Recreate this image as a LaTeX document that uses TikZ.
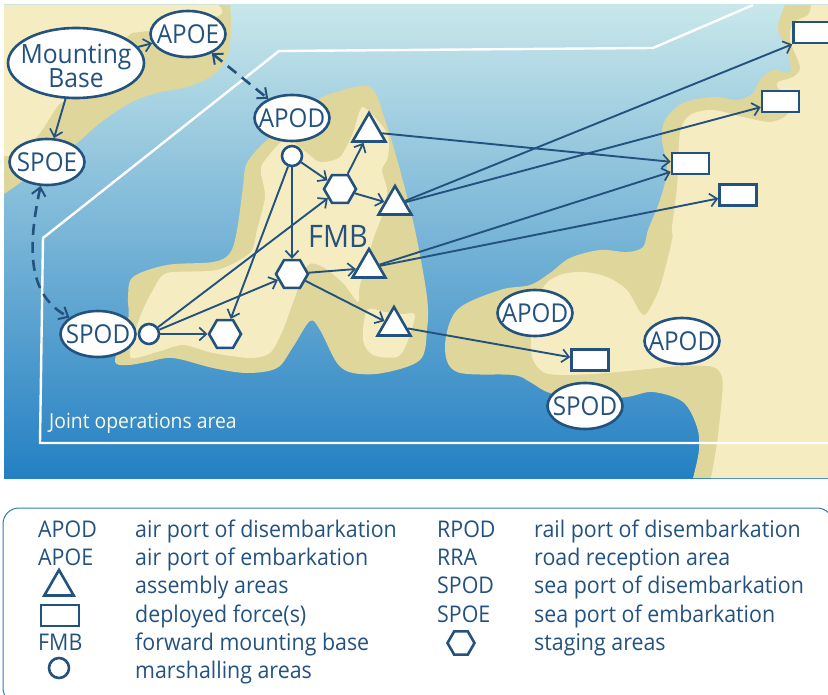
\documentclass[tikz,border=0pt]{standalone}
\usepackage{fontspec}
\setmainfont[FakeStretch=0.93]{Open Sans}
\usetikzlibrary{shapes.geometric,arrows.meta}
\definecolor{ink}{HTML}{24527F}
\definecolor{dune}{HTML}{DED69A}
\definecolor{sand}{HTML}{F5EDC1}
\definecolor{seatop}{HTML}{C8E7EA}
\definecolor{seamid}{HTML}{7FB8DA}
\definecolor{seabot}{HTML}{2480C3}
\definecolor{legendline}{HTML}{2F7AB5}
\newcommand{\portlab}[1]{\makebox[0pt]{\raisebox{-0.36em}[0pt][0pt]{#1}}}
\tikzset{
 port/.style={ellipse,draw=ink,fill=white,line width=2.6pt,minimum width=75pt,minimum height=46pt,inner sep=0pt,text=ink,font=\fontsize{26}{26}\selectfont},
 hexa/.style={regular polygon,regular polygon sides=6,draw=ink,fill=white,line width=2.6pt,minimum size=32pt,inner sep=0pt},
 tria/.style={regular polygon,regular polygon sides=3,draw=ink,fill=white,line width=2.6pt,minimum size=38pt,inner sep=0pt},
 boxy/.style={rectangle,draw=ink,fill=white,line width=2.6pt,minimum width=37pt,minimum height=21pt,inner sep=0pt},
 ring/.style={circle,draw=ink,fill=white,line width=2.6pt,minimum size=20pt,inner sep=0pt},
 link/.style={draw=ink,line width=1.9pt,-{Straight Barb[length=7pt,width=13pt,line width=1.7pt]}},
 dlink/.style={draw=ink,line width=2.6pt,dash pattern=on 11pt off 7pt,{Straight Barb[length=8pt,width=14pt,line width=2pt]}-{Straight Barb[length=8pt,width=14pt,line width=2pt]}},
 key/.style={anchor=base west,inner sep=0pt,text=ink,font=\fontsize{23}{23}\selectfont},
}
\begin{document}
\begin{tikzpicture}[x=1pt,y=-1pt]
\useasboundingbox (0,0) rectangle (828,695);
\begin{scope}
\clip (0,0) rectangle (828,695);
\shade[top color=seatop,middle color=seamid,bottom color=seabot] (4,5) rectangle (828,478);
\begin{scope}
\clip (4,5) rectangle (828,478);
% top-left land
\fill[dune] (4,5) -- plot[smooth,tension=.6] coordinates {(230,5)(231,30)(227,57)(213,75)(187,87)(157,93)(130,103)(100,123)(77,143)(50,163)(20,183)(4,194)} -- cycle;
\fill[sand] (4,5) -- plot[smooth,tension=.6] coordinates {(218,5)(220,15)(180,28)(140,32)(127,37)(100,70)(68,98)(57,107)(40,133)(20,153)(4,156)} -- cycle;
% central island
\fill[dune] plot[smooth cycle,tension=.55] coordinates {(370,87)(333,93)(313,103)(267,140)(247,163)(243,187)(237,230)(230,253)(213,262)(167,265)(133,277)(128,297)(128,320)(115,360)(127,365)(147,362)(173,358)(213,368)(247,373)(277,368)(293,347)(310,321)(320,330)(337,363)(353,373)(383,373)(420,360)(427,330)(427,297)(415,230)(400,170)(385,120)};
\fill[sand] plot[smooth cycle,tension=.45] coordinates {(363,107)(353,133)(340,157)(320,162)(307,153)(290,140)(280,143)(263,163)(261,173)(265,197)(257,230)(250,253)(217,270)(167,273)(153,290)(140,317)(130,357)(157,352)(183,345)(213,353)(250,358)(270,353)(283,330)(295,297)(308,265)(323,267)(343,283)(358,302)(360,285)(373,240)(383,213)(387,190)(382,170)(388,157)(387,133)};
\fill[sand] plot[smooth cycle,tension=.5] coordinates {(367,310)(363,340)(373,355)(397,357)(407,343)(415,315)(403,314)(385,312)};
% right land
\fill[dune] (828,5) -- plot[smooth,tension=.55] coordinates {(785,5)(778,28)(787,50)(790,72)(773,70)(760,80)(753,93)(738,100)(713,97)(683,103)(665,120)(662,140)(667,170)(660,200)(648,230)(643,247)(627,252)(600,250)(570,258)(550,273)(530,285)(500,290)(457,310)(445,347)(457,372)(513,375)(530,382)(550,393)(590,400)(627,397)(653,392)(683,402)(697,427)(699,450)(693,478)} -- (828,478) -- cycle;
\fill[sand] (828,5) -- plot[smooth,tension=.5] coordinates {(811,5)(808,15)(793,23)(790,40)(800,67)(793,77)(778,82)(778,88)(790,100)(787,115)(770,122)(743,117)(713,110)(690,115)(680,133)(677,187)(672,227)(672,240)(660,287)(647,313)(640,312)(627,290)(607,277)(583,272)(560,275)(543,288)(532,330)(532,357)(543,372)(563,375)(607,373)(680,366)(713,367)(722,377)(722,397)(717,443)(711,478)} -- (828,478) -- cycle;
% joint operations area
\draw[white,line width=2.4pt,line join=miter] (753,5) -- (653,48) -- (279,51) -- (43,238) -- (40,443) -- (828,443);
\end{scope}
\node[anchor=base west,inner sep=0pt,text=sand!40!white,font=\fontsize{20.8}{20.8}\selectfont] (joa) at (49,428) {Joint operations area};
\node[anchor=center,inner sep=0pt,text=ink,font=\fontsize{31}{31}\selectfont] (fmb) at (338,236) {FMB};
% nodes
\node[port,minimum width=136pt,minimum height=70pt,font=\fontsize{26.5}{26.5}\selectfont] (mb) at (76,63) {\makebox[0pt]{\raisebox{-0.02em}[0pt][0pt]{Mounting}}\makebox[0pt]{\raisebox{-0.94em}[0pt][0pt]{Base}}};
\node[port] (apoe) at (188,34) {\portlab{APOE}};
\node[port] (spoe) at (47,162) {\portlab{SPOE}};
\node[port] (apod) at (292,118) {\portlab{APOD}};
\node[port] (spod) at (98,334) {\portlab{SPOD}};
\node[port] (apodb) at (535,313) {\portlab{APOD}};
\node[port] (apodc) at (682,341) {\portlab{APOD}};
\node[port] (spodb) at (585,406) {\portlab{SPOD}};
\node[ring] (ca) at (292,156) {};
\node[ring] (cb) at (149,334) {};
\node[hexa] (ha) at (340,189) {};
\node[hexa] (hb) at (292,274) {};
\node[hexa] (hc) at (225,334) {};
\node[tria] (ta) at (369,132) {};
\node[tria] (tb) at (395,205) {};
\node[tria] (tc) at (369,268) {};
\node[tria] (td) at (394,326) {};
\node[boxy] (ra) at (690.5,163.5) {};
\node[boxy] (rb) at (738,195) {};
\node[boxy] (rc) at (780.5,101.5) {};
\node[boxy,minimum width=41pt] (rd) at (814,32.5) {};
\node[boxy] (re) at (590,360) {};
% connectors
\draw[link] (mb) -- (apoe);
\draw[link] (mb) -- (spoe);
\draw[dlink] (apoe) -- (apod);
\draw[dlink] (spoe.255) .. controls (27,250) and (28,295) .. (spod.150);
\draw[link] (ca) -- (ha);
\draw[link] (ca) -- (hb);
\draw[link] (ca) -- (hc);
\draw[link] (ha) -- (ta);
\draw[link] (ha) -- (tb);
\draw[link] (cb) -- (ha);
\draw[link] (cb) -- (hb);
\draw[link] (cb) -- (hc);
\draw[link] (hb) -- (tc);
\draw[link] (hb) -- (td);
\draw[link] (ta) -- (ra.175);
\draw[link] (tc) -- (ra.203);
\draw[link] (tc) -- (rb.190);
\draw[link] (tb) -- (rc.196);
\draw[link] (tb) -- (rd.south west);
\draw[link] (td) -- (re.172);
% legend
\draw[legendline,line width=1pt,rounded corners=16pt] (3,508) rectangle (833,704);
\node[key] (k1) at (38,537) {APOD};
\node[key] (k2) at (38,565) {APOE};
\node[key] (k5) at (38,650) {FMB};
\node[key] (d1) at (135,537) {air port of disembarkation};
\node[key] (d2) at (135,565) {air port of embarkation};
\node[key] (d3) at (135,593) {assembly areas};
\node[key] (d4) at (135,622) {deployed force(s)};
\node[key] (d5) at (135,650) {forward mounting base};
\node[key] (d6) at (135,678) {marshalling areas};
\node[key] (k7) at (437,537) {RPOD};
\node[key] (k8) at (437,565) {RRA};
\node[key] (k9) at (437,593) {SPOD};
\node[key] (k10) at (437,622) {SPOE};
\node[key] (d7) at (534,537) {rail port of disembarkation};
\node[key] (d8) at (534,565) {road reception area};
\node[key] (d9) at (534,593) {sea port of disembarkation};
\node[key] (d10) at (534,622) {sea port of embarkation};
\node[key] (d11) at (534,650) {staging areas};
\node[tria,fill=none,minimum size=34pt] (kt) at (59,587) {};
\node[boxy,fill=none,minimum width=38pt,minimum height=21pt] (kr) at (60,615.5) {};
\node[ring,fill=none] (kc) at (59,668) {};
\node[hexa,fill=none,minimum size=27pt] (kh) at (461,643) {};
\end{scope}
\end{tikzpicture}
\end{document}
